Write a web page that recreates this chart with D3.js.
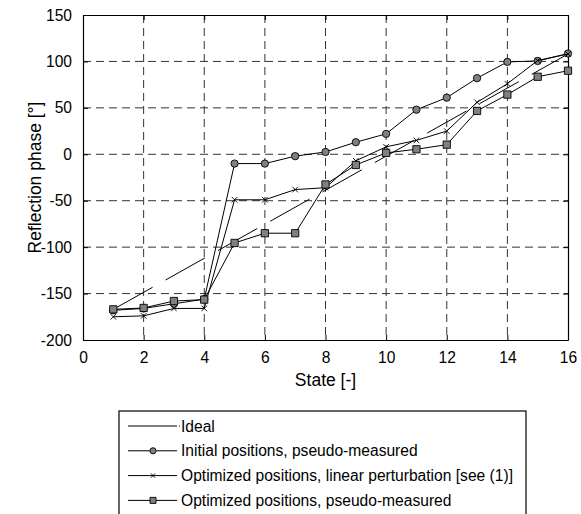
<!DOCTYPE html>
<html>
<head>
<meta charset="utf-8">
<script src="https://cdn.jsdelivr.net/npm/d3@7"></script>
<style>
  body { margin: 0; background: #fff; }
  text { font-family: "Liberation Sans", Arial, sans-serif; fill: #000; }
</style>
</head>
<body>
<div id="chart"></div>
<script>
// data
const states = [1, 2, 3, 4, 5, 6, 7, 8, 9, 10, 11, 12, 13, 14, 15, 16];
const idealStates = [1, 16];
const idealPhase = [-167, 108];
const initialPhase = [-168, -166, -161, -156, -10, -10, -2, 2.5, 13, 22, 48, 61, 82, 99.5, 100.5, 108.5];
const linearPhase = [-175, -174, -166, -166, -49, -49, -38, -36, -7, 8, 15, 25, 56, 76, 101, 108];
const optimizedPhase = [-167, -165.5, -158, -156.5, -95.5, -85, -85, -32.5, -11.5, 1.5, 5.4, 10.4, 46.7, 64.3, 83.5, 90];
const xTicks = [0, 2, 4, 6, 8, 10, 12, 14, 16];
const yTicks = [-200, -150, -100, -50, 0, 50, 100, 150];
const legendLabels = [
    "Ideal",
    "Initial positions, pseudo-measured",
    "Optimized positions, linear perturbation [see (1)]",
    "Optimized positions, pseudo-measured"
];

const svgWidth = 581;
const svgHeight = 514;
const margin = { top: 15, right: 13, bottom: 174, left: 83 };
const width = svgWidth - margin.left - margin.right;
const height = svgHeight - margin.top - margin.bottom;
const markerFill = "#808080";

const svg = d3.select("#chart")
    .append("svg")
    .attr("width", svgWidth)
    .attr("height", svgHeight);

const g = svg.append("g")
    .attr("transform", `translate(${margin.left},${margin.top})`);

const xScale = d3.scaleLinear().domain([0, 16]).range([0, width]);
const yScale = d3.scaleLinear().domain([-200, 150]).range([height, 0]);

// grid
g.selectAll(".vgrid")
    .data(xTicks.slice(1, -1))
    .enter().append("line")
    .attr("x1", d => xScale(d)).attr("x2", d => xScale(d))
    .attr("y1", 0).attr("y2", height)
    .attr("stroke", "#333").attr("stroke-dasharray", "8,5");

g.selectAll(".hgrid")
    .data(yTicks.slice(1, -1))
    .enter().append("line")
    .attr("y1", d => yScale(d)).attr("y2", d => yScale(d))
    .attr("x1", 0).attr("x2", width)
    .attr("stroke", "#333").attr("stroke-dasharray", "8,5");

// axes (ticks inside, box all round)
const plainFormat = d => String(d);
const xAxis = d3.axisBottom(xScale).tickValues(xTicks).tickFormat(plainFormat).tickSizeInner(-5).tickSizeOuter(0).tickPadding(12);
const yAxis = d3.axisLeft(yScale).tickValues(yTicks).tickFormat(plainFormat).tickSizeInner(-5).tickSizeOuter(0).tickPadding(11);

const gx = g.append("g").attr("transform", `translate(0,${height})`).call(xAxis);
const gy = g.append("g").call(yAxis);
g.append("g").call(d3.axisTop(xScale).tickValues(xTicks).tickSizeInner(-5).tickSizeOuter(0).tickFormat(""));
g.append("g").attr("transform", `translate(${width},0)`)
    .call(d3.axisRight(yScale).tickValues(yTicks).tickSizeInner(-5).tickSizeOuter(0).tickFormat(""));

g.selectAll(".domain").attr("stroke", "#000").attr("stroke-width", 1.2);
g.selectAll(".tick line").attr("stroke", "#000");
gx.selectAll("text").style("font-size", "15.6px");
gy.selectAll("text").style("font-size", "15.6px");

g.append("text")
    .attr("x", width / 2)
    .attr("y", height + 46)
    .attr("text-anchor", "middle")
    .style("font-size", "17.5px")
    .text("State [-]");

g.append("text")
    .attr("transform", `translate(${35 - margin.left},${height / 2}) rotate(-90)`)
    .attr("text-anchor", "middle")
    .attr("dominant-baseline", "central")
    .style("font-size", "17.5px")
    .text("Reflection phase [°]");

// lines
const line = d3.line().x(d => xScale(d[0])).y(d => yScale(d[1]));

g.append("path")
    .datum(idealStates.map((s, i) => [s, idealPhase[i]]))
    .attr("d", line)
    .attr("fill", "none").attr("stroke", "#000").attr("stroke-width", 1)
    .attr("stroke-dasharray", "45,15");

const series = [
    { values: initialPhase, symbol: d3.symbolCircle, size: 42, fill: markerFill },
    { values: linearPhase, symbol: d3.symbolX, size: 22, fill: "none" },
    { values: optimizedPhase, symbol: d3.symbolSquare, size: 53, fill: markerFill }
];

series.forEach(s => {
    const pts = states.map((st, i) => [st, s.values[i]]);
    g.append("path")
        .datum(pts)
        .attr("d", line)
        .attr("fill", "none").attr("stroke", "#000").attr("stroke-width", 1);
    g.selectAll(null)
        .data(pts)
        .enter().append("path")
        .attr("transform", d => `translate(${xScale(d[0])},${yScale(d[1])})`)
        .attr("d", d3.symbol().type(s.symbol).size(s.size))
        .attr("fill", s.fill)
        .attr("stroke", "#000").attr("stroke-width", 0.9);
});

// legend
const legend = svg.append("g").attr("transform", "translate(119,411)");
legend.append("rect")
    .attr("x", 0).attr("y", 0).attr("width", 407).attr("height", 120)
    .attr("fill", "#fff").attr("stroke", "#000").attr("stroke-width", 1.2);

const legendSymbols = [null, d3.symbolCircle, d3.symbolX, d3.symbolSquare];
const legendSizes = [0, 30, 14, 36];
legendLabels.forEach((label, i) => {
    const y = 15 + i * 24.8;
    legend.append("line")
        .attr("x1", 9).attr("x2", 58).attr("y1", y).attr("y2", y)
        .attr("stroke", "#000");
    if (legendSymbols[i]) {
        legend.append("path")
            .attr("transform", `translate(34,${y})`)
            .attr("d", d3.symbol().type(legendSymbols[i]).size(legendSizes[i]))
            .attr("fill", i === 2 ? "none" : markerFill)
            .attr("stroke", "#000").attr("stroke-width", 0.9);
    } else {
        legend.append("circle").attr("cx", 60.5).attr("cy", y).attr("r", 0.6).attr("fill", "#000");
    }
    legend.append("text")
        .attr("x", 62).attr("y", y)
        .attr("dominant-baseline", "central")
        .style("font-size", "15.6px")
        .text(label);
});
</script>
</body>
</html>
